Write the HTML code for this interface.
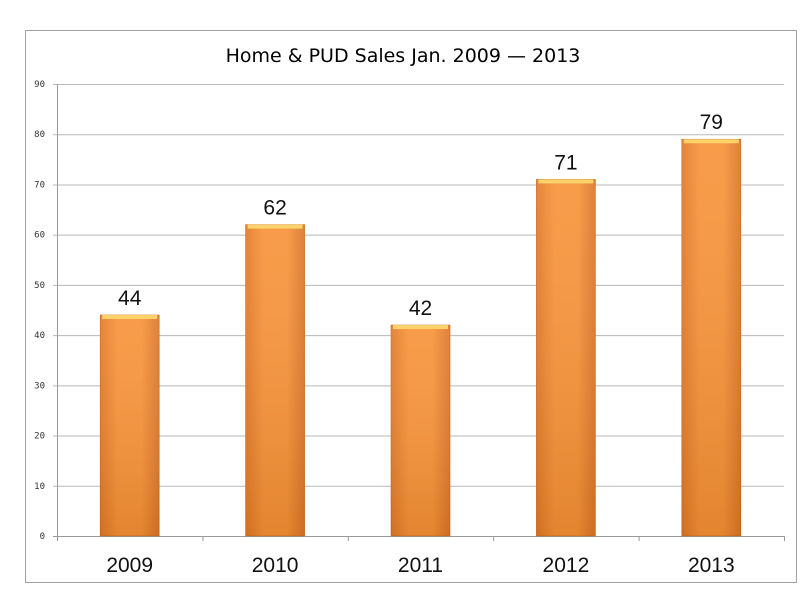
<!DOCTYPE html>
<html><head><meta charset="utf-8"><style>
body{margin:0;background:#fff;}
svg{display:block;font-family:"Liberation Sans",sans-serif;}
</style></head><body>
<svg width="811" height="606" viewBox="0 0 811 606">
<defs>
<linearGradient id="bg" x1="0" y1="0" x2="1" y2="0">
<stop offset="0" stop-color="#e07a2a"/><stop offset="0.3" stop-color="#f7943a"/><stop offset="0.7" stop-color="#f7943a"/><stop offset="1" stop-color="#d9772a"/>
</linearGradient>
<linearGradient id="bv" x1="0" y1="0" x2="0" y2="1">
<stop offset="0" stop-color="#fff" stop-opacity="0.08"/><stop offset="1" stop-color="#8a3d00" stop-opacity="0.18"/>
</linearGradient>
</defs>
<rect x="25.5" y="30.5" width="771" height="552" fill="#fff" stroke="#a0a0a0"/>
<text x="403" y="62" text-anchor="middle" font-family="DejaVu Sans, sans-serif" font-size="19" fill="#000">Home &amp; PUD Sales Jan. 2009 — 2013</text>
<g id="grid"></g><g id="bars"></g>
</svg>
<script>
const categories=["2009","2010","2011","2012","2013"];
const values=[44,62,42,71,79];
const yTicks=[0,10,20,30,40,50,60,70,80,90];
const svg=document.querySelector('svg'),NS="http://www.w3.org/2000/svg";
const x0=57,x1=784,yTop=84,yBot=536,yMax=90;
const y=v=>yBot-(v/yMax)*(yBot-yTop);
const band=(x1-x0)/categories.length;
const g=document.getElementById('grid'),b=document.getElementById('bars');
function mk(t,a,p){const e=document.createElementNS(NS,t);for(const k in a)e.setAttribute(k,a[k]);p.appendChild(e);return e;}
yTicks.forEach(v=>{
 const l=mk('line',{x1:x0-4,x2:x1,y1:y(v)+0.5,y2:y(v)+0.5,stroke:v===0?'#999':'#b8b8b8'},g);
 
 
 const t=mk('text',{x:45,y:y(v)+3,'text-anchor':'end','font-size':'9','font-family':'DejaVu Sans Mono, monospace',fill:'#333'},g);
 t.textContent=v;
 
 
});
const ax=mk('line',{x1:x0+0.5,x2:x0+0.5,y1:yTop,y2:yBot+5,stroke:'#999'},g);


for(let i=0;i<=categories.length;i++){
 const t=mk('line',{x1:x0+i*band+0.5,x2:x0+i*band+0.5,y1:yBot,y2:yBot+5,stroke:'#999'},g);
 
 
}
categories.forEach((c,i)=>{
 const cx=x0+band*(i+0.5),w=59,top=y(values[i]);
 const r=mk('rect',{x:cx-w/2,y:top,width:w,height:yBot-top,fill:'url(#bg)',stroke:'#c0661e','stroke-width':'0.6'},b);
 
 
 const s=mk('rect',{x:cx-w/2,y:top,width:w,height:yBot-top,fill:'url(#bv)'},b);
 
 
 const h=mk('rect',{x:cx-w/2+2,y:top,width:w-4,height:4,fill:'#fbd36a'},b);
 
 
 const vl=mk('text',{x:cx,y:top-10,'text-anchor':'middle','font-size':'21',fill:'#111'},b);
 vl.textContent=values[i];
 
 
 const xl=mk('text',{x:cx,y:572,'text-anchor':'middle','font-size':'21',fill:'#111'},b);
 xl.textContent=c;
 
 
});
</script>
</body></html>
